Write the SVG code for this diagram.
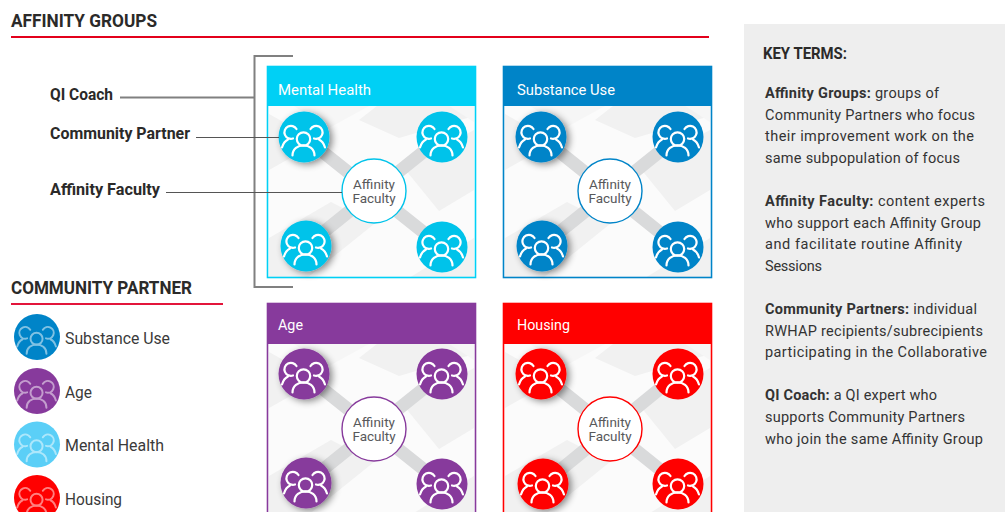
<svg xmlns="http://www.w3.org/2000/svg" width="1005" height="512" viewBox="0 0 1005 512">
<style>
text{font-family:"Roboto","Liberation Sans",sans-serif;fill:#2b2a29}
.h{font-size:19px;font-weight:700}
.lab{font-size:16.5px;font-weight:700}
.ph{font-size:15.5px;font-weight:400;fill:#fff}
.cen{font-size:13.5px;fill:#58595b;text-anchor:middle}
.leg{font-size:16.5px;fill:#3a3a3a}
.kt{font-size:14.5px;fill:#333}
.b{font-weight:700}
.ic{fill:none;stroke:#fff;stroke-width:2.2;stroke-linecap:round}
.gl{fill:none;stroke:#808080}
.spoke{stroke:#d9dadb;stroke-width:13}
.wh{fill:#fff}
</style>
<defs>
<filter id="sh" x="-40%" y="-40%" width="190%" height="190%"><feDropShadow dx="3" dy="2" stdDeviation="3.5" flood-color="#000" flood-opacity=".45"/></filter>
<clipPath id="bc"><rect x="0" y="0" width="205" height="172"/></clipPath>
<g id="bg" clip-path="url(#bc)">
<rect width="205" height="172" fill="#fbfbfb"/>
<path d="M0 8L50 36 0 64ZM108 0H205V10L130 32 90 14ZM135 62L205 24V84L170 105ZM0 132L62 96 105 118 38 172H0ZM140 172L205 132V172Z" fill="#f1f1f1"/>
<path d="M25 0H100L60 22ZM180 0H205V16Z" fill="#f6f6f6"/>
</g>
<g id="p"><circle cx="-0.500" cy="2" r="6.700" class="ic"/><path class="ic" d="M-11.500 18.500C-11.500 5 10.500 5 10.500 18.500"/><path class="ic" d="M-7.500 -8A6.500 6.500 0 1 0 -11 1.500M-16 2.500C-19 4 -21 7 -22 10.500M6.500 -8A6.500 6.500 0 1 1 10 1.500M15 2.500C18 4 20 7 21 10.500"/></g>
</defs>
<rect x="744" y="24" width="261" height="488" fill="#eeeeee"/>
<g id="title-affinity"><text class="h" x="11" y="27" textLength="146" lengthAdjust="spacingAndGlyphs">AFFINITY GROUPS</text><rect x="11" y="36" width="698" height="2" fill="#e3001b"/></g>
<g id="title-partner"><text class="h" x="11" y="294" textLength="181" lengthAdjust="spacingAndGlyphs">COMMUNITY PARTNER</text><rect x="11" y="303" width="212" height="2" fill="#e3153b"/></g>

<g id="panel-mental">
<use href="#bg" x="269" y="106"/><rect x="267.500" y="66.500" width="208" height="211" fill="none" stroke="#00d0f5" stroke-width="1.600"/><rect x="267" y="66" width="209" height="40" fill="#00d0f5"/>
<text class="ph" x="278" y="95" textLength="93" lengthAdjust="spacingAndGlyphs">Mental Health</text>
<path class="spoke" d="M304 137L442 247M442 137L306 246"/>
<g fill="#00c3ea"><circle cx="304" cy="137" r="25.500" filter="url(#sh)"/><circle cx="442" cy="137" r="25.500"/><circle cx="306" cy="246" r="25.500" filter="url(#sh)"/><circle cx="442" cy="247" r="25.500"/></g>
<use href="#p" x="304" y="137"/><use href="#p" x="442" y="137"/><use href="#p" x="306" y="246"/><use href="#p" x="442" y="247"/>
<circle class="wh" cx="374" cy="191" r="32" stroke="#00c3ea" stroke-width="1.400"/>
<text class="cen"><tspan x="374" y="189">Affinity</tspan><tspan x="374" y="203">Faculty</tspan></text>
</g>

<g id="panel-substance">
<use href="#bg" x="505" y="106"/><rect x="503.500" y="66.500" width="208" height="211" fill="none" stroke="#0084c8" stroke-width="1.600"/><rect x="503" y="66" width="209" height="40" fill="#0084c8"/>
<text class="ph" x="517" y="95" textLength="98" lengthAdjust="spacingAndGlyphs">Substance Use</text>
<path class="spoke" d="M541 137L678 247M678 137L542 246"/>
<g fill="#0084c8"><circle cx="541" cy="137" r="25.500" filter="url(#sh)"/><circle cx="678" cy="137" r="25.500"/><circle cx="542" cy="246" r="25.500" filter="url(#sh)"/><circle cx="678" cy="247" r="25.500"/></g>
<use href="#p" x="541" y="137"/><use href="#p" x="678" y="137"/><use href="#p" x="542" y="246"/><use href="#p" x="678" y="247"/>
<circle class="wh" cx="610" cy="191" r="32" stroke="#0084c8" stroke-width="1.400"/>
<text class="cen"><tspan x="610" y="189">Affinity</tspan><tspan x="610" y="203">Faculty</tspan></text>
</g>

<g id="panel-age">
<use href="#bg" x="269" y="344"/><rect x="267.500" y="303.500" width="208" height="220" fill="none" stroke="#873a9c" stroke-width="1.600"/><rect x="267" y="303" width="209" height="41" fill="#873a9c"/>
<text class="ph" x="278" y="330" textLength="25" lengthAdjust="spacingAndGlyphs">Age</text>
<path class="spoke" d="M304 374L442 484M442 374L306 483"/>
<g fill="#873a9c"><circle cx="304" cy="374" r="25.500" filter="url(#sh)"/><circle cx="442" cy="374" r="25.500"/><circle cx="306" cy="483" r="25.500" filter="url(#sh)"/><circle cx="442" cy="484" r="25.500"/></g>
<use href="#p" x="304" y="374"/><use href="#p" x="442" y="374"/><use href="#p" x="306" y="483"/><use href="#p" x="442" y="484"/>
<circle class="wh" cx="374" cy="429" r="32" stroke="#873a9c" stroke-width="1.400"/>
<text class="cen"><tspan x="374" y="427">Affinity</tspan><tspan x="374" y="441">Faculty</tspan></text>
</g>

<g id="panel-housing">
<use href="#bg" x="505" y="344"/><rect x="503.500" y="303.500" width="208" height="220" fill="none" stroke="#ff0000" stroke-width="1.600"/><rect x="503" y="303" width="209" height="41" fill="#ff0000"/>
<text class="ph" x="517" y="330" textLength="53" lengthAdjust="spacingAndGlyphs">Housing</text>
<path class="spoke" d="M541 374L678 484M678 374L543 484"/>
<g fill="#ff0000"><circle cx="541" cy="374" r="25.500" filter="url(#sh)"/><circle cx="678" cy="374" r="25.500"/><circle cx="543" cy="484" r="25.500" filter="url(#sh)"/><circle cx="678" cy="484" r="25.500"/></g>
<use href="#p" x="541" y="374"/><use href="#p" x="678" y="374"/><use href="#p" x="543" y="484"/><use href="#p" x="678" y="484"/>
<circle class="wh" cx="610" cy="429" r="32" stroke="#ff0000" stroke-width="1.400"/>
<text class="cen"><tspan x="610" y="427">Affinity</tspan><tspan x="610" y="441">Faculty</tspan></text>
</g>

<g id="connectors">
<path class="gl" stroke-width="2" d="M293 56H254.500V287H293M120 97.500H254"/>
<path fill="none" stroke="#555" stroke-width="1" d="M196 137.500H279M166 192.500H342"/>
</g>

<g id="labels">
<g id="label-qi"><text class="lab" x="50" y="100" textLength="63" lengthAdjust="spacingAndGlyphs">QI Coach</text></g>
<g id="label-partner"><text class="lab" x="50" y="139" textLength="140" lengthAdjust="spacingAndGlyphs">Community Partner</text></g>
<g id="label-faculty"><text class="lab" x="50" y="195" textLength="110" lengthAdjust="spacingAndGlyphs">Affinity Faculty</text></g>
</g>

<g id="legend">
<g id="legend-substance"><circle cx="37" cy="337" r="23" fill="#0084c8"/><use href="#p" transform="translate(37 337) scale(.9)" opacity=".5"/><text class="leg" x="65" y="344" textLength="105" lengthAdjust="spacingAndGlyphs">Substance Use</text></g>
<g id="legend-age"><circle cx="37" cy="391" r="23" fill="#873a9c"/><use href="#p" transform="translate(37 391) scale(.9)" opacity=".5"/><text class="leg" x="65" y="398" textLength="27" lengthAdjust="spacingAndGlyphs">Age</text></g>
<g id="legend-mental"><circle cx="37" cy="444.500" r="23" fill="#5bcff7"/><use href="#p" transform="translate(37 444.500) scale(.9)" opacity=".5"/><text class="leg" x="65" y="451" textLength="99" lengthAdjust="spacingAndGlyphs">Mental Health</text></g>
<g id="legend-housing"><circle cx="37" cy="498" r="23" fill="#ff0000"/><use href="#p" transform="translate(37 498) scale(.9)" opacity=".5"/><text class="leg" x="65" y="505" textLength="57" lengthAdjust="spacingAndGlyphs">Housing</text></g>
</g>

<g id="key-terms">
<text class="lab" x="763" y="59" textLength="84" lengthAdjust="spacingAndGlyphs">KEY TERMS:</text>
<text class="kt" x="765" y="98" textLength="174"><tspan class="b">Affinity Groups:</tspan> groups of</text>
<text class="kt" x="765" y="120" textLength="210">Community Partners who focus</text>
<text class="kt" x="765" y="141" textLength="209">their improvement work on the</text>
<text class="kt" x="765" y="163" textLength="195">same subpopulation of focus</text>
<text class="kt" x="765" y="206" textLength="220"><tspan class="b">Affinity Faculty:</tspan> content experts</text>
<text class="kt" x="765" y="228" textLength="216">who support each Affinity Group</text>
<text class="kt" x="765" y="249" textLength="197">and facilitate routine Affinity</text>
<text class="kt" x="765" y="271" textLength="57">Sessions</text>
<text class="kt" x="765" y="314" textLength="212"><tspan class="b">Community Partners:</tspan> individual</text>
<text class="kt" x="765" y="336" textLength="218">RWHAP recipients/subrecipients</text>
<text class="kt" x="765" y="357" textLength="222">participating in the Collaborative</text>
<text class="kt" x="765" y="400" textLength="172"><tspan class="b">QI Coach:</tspan> a QI expert who</text>
<text class="kt" x="765" y="422" textLength="200">supports Community Partners</text>
<text class="kt" x="765" y="444" textLength="218">who join the same Affinity Group</text>
</g>
</svg>
